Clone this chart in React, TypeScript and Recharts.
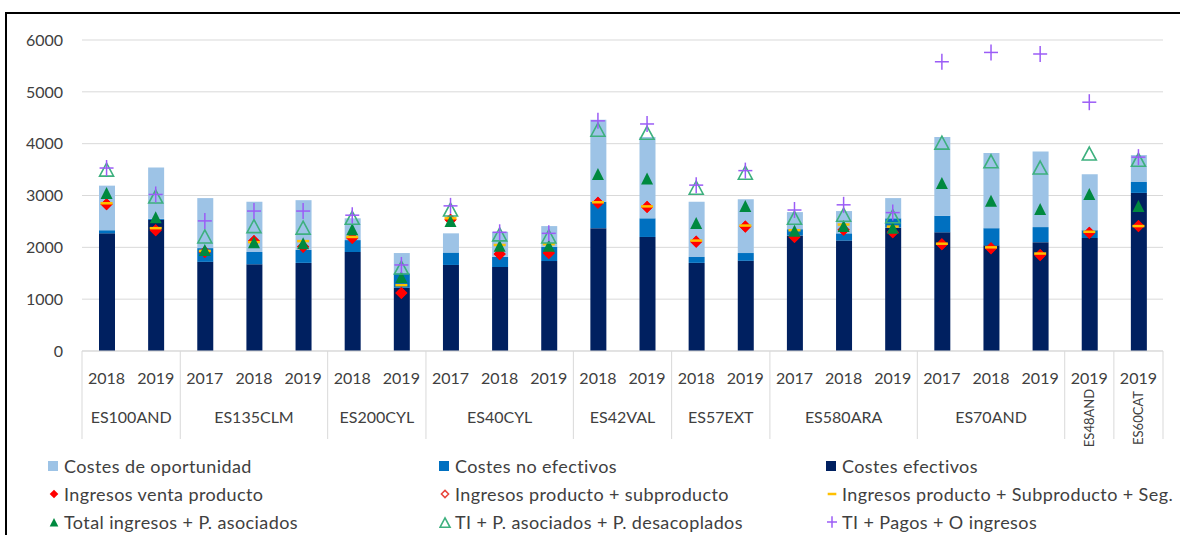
import React from "react"
import { ComposedChart, Bar, Line, XAxis, YAxis, CartesianGrid, Legend } from "recharts"

// categories
const years = [
  "2018", "2019",
  "2017", "2018", "2019",
  "2018", "2019",
  "2017", "2018", "2019",
  "2018", "2019",
  "2018", "2019",
  "2017", "2018", "2019",
  "2017", "2018", "2019",
  "2019",
  "2019",
]
const groupNames = ["ES100AND", "ES135CLM", "ES200CYL", "ES40CYL", "ES42VAL", "ES57EXT", "ES580ARA", "ES70AND", "ES48AND", "ES60CAT"]
const groupSizes = [2, 3, 2, 3, 2, 2, 3, 3, 1, 1]

// stacked bar segments
const costesEfectivos = [2270, 2530, 1720, 1675, 1700, 1910, 1220, 1660, 1620, 1735, 2370, 2200, 1700, 1740, 2230, 2130, 2380, 2290, 2040, 2100, 2180, 3050]
const costesNoEfectivos = [60, 20, 265, 235, 250, 230, 280, 240, 195, 275, 510, 360, 115, 150, 120, 140, 180, 320, 330, 290, 150, 210]
const costesOportunidad = [860, 990, 965, 970, 960, 420, 390, 370, 485, 400, 1580, 1570, 1065, 1040, 330, 430, 390, 1520, 1450, 1460, 1080, 520]

// markers
const ingresosVenta = [2830, 2330, 1910, 2120, 2010, 2180, 1120, 2530, 1870, 1890, 2860, 2780, 2110, 2400, 2200, 2340, 2290, 2060, 1980, 1850, 2280, 2410]
const ingresosSubproducto = [2830, 2330, 1910, 2120, 2010, 2180, 1120, 2530, 1870, 1890, 2860, 2780, 2110, 2400, 2200, 2340, 2290, 2060, 1980, 1850, 2280, 2410]
const ingresosSeg = [2850, 2370, 1930, 2100, 2120, 2200, 1270, 2560, 2045, 2060, 2870, 2790, 2130, 2420, 2330, 2440, 2400, 2070, 2000, 1880, 2300, 2410]
const totalAsociados = [3030, 2560, 1930, 2080, 2060, 2330, 1410, 2490, 2010, 2010, 3395, 3310, 2450, 2780, 2300, 2390, 2360, 3220, 2880, 2720, 3010, 2780]
const tiDesacoplados = [3490, 2970, 2200, 2400, 2370, 2560, 1600, 2720, 2240, 2200, 4260, 4200, 3140, 3430, 2560, 2620, 2590, 4010, 3650, 3530, 3800, 3680]
const tiPagos = [3530, 3020, 2510, 2700, 2700, 2620, 1660, 2800, 2290, 2270, 4440, 4380, 3200, 3480, 2720, 2820, 2670, 5580, 5760, 5730, 4800, 3740]

const yTicks = [0, 1000, 2000, 3000, 4000, 5000, 6000]

const data = years.map((year, i) => ({
  year,
  efectivos: costesEfectivos[i],
  noEfectivos: costesNoEfectivos[i],
  oportunidad: costesOportunidad[i],
  venta: ingresosVenta[i],
  subproducto: ingresosSubproducto[i],
  seg: ingresosSeg[i],
  total: totalAsociados[i],
  desacoplados: tiDesacoplados[i],
  pagos: tiPagos[i],
}))

const CHART_W = 1180
const CHART_H = 535
const Y_AXIS_W = 82
const MARGIN_RIGHT = 17
const BAND = (CHART_W - Y_AXIS_W - MARGIN_RIGHT) / years.length

const FONT = "Lato, 'Noto Sans', sans-serif"
const TEXT = "#404040"
const GRID = "#D9D9D9"

const groupStarts: number[] = []
groupSizes.reduce((acc, n) => {
  groupStarts.push(acc)
  return acc + n
}, 0)

const CategoryTick = (props: any) => {
  const { x, y, payload } = props
  const i = payload.index ?? props.index
  const g = groupStarts.indexOf(i)
  return (
    <g>
      <text x={x} y={y + 33} textAnchor="middle" fill={TEXT} fontSize={16} fontFamily={FONT}>
        {payload.value}
      </text>
      {g >= 0 && <line x1={x - BAND / 2} x2={x - BAND / 2} y1={y} y2={y + 88} stroke={GRID} />}
      {i === years.length - 1 && <line x1={x + BAND / 2} x2={x + BAND / 2} y1={y} y2={y + 88} stroke={GRID} />}
      {g >= 0 && groupSizes[g] > 1 && (
        <text x={x + ((groupSizes[g] - 1) * BAND) / 2} y={y + 72} textAnchor="middle" fill={TEXT} fontSize={16} fontFamily={FONT}>
          {groupNames[g]}
        </text>
      )}
      {g >= 0 && groupSizes[g] === 1 && (
        <text
          x={x}
          y={y + 67}
          transform={`rotate(-90, ${x}, ${y + 67})`}
          textAnchor="middle"
          dominantBaseline="central"
          fill={TEXT}
          fontSize={13}
          fontFamily={FONT}
        >
          {groupNames[g]}
        </text>
      )}
    </g>
  )
}

const RED = "#FF0000"
const YELLOW = "#FFC000"
const GREEN = "#00893F"
const SEA = "#3DB07E"
const PURPLE = "#9B5CF6"

type Shape = "diamond" | "openDiamond" | "dash" | "triangle" | "openTriangle" | "plus" | "square"

const Marker = ({ shape, cx, cy, color, s = 1 }: { shape: Shape; cx: number; cy: number; color: string; s?: number }) => {
  switch (shape) {
    case "diamond":
      return <polygon points={`${cx},${cy - 6 * s} ${cx + 6 * s},${cy} ${cx},${cy + 6 * s} ${cx - 6 * s},${cy}`} fill={color} />
    case "openDiamond":
      return <polygon points={`${cx},${cy - 5 * s} ${cx + 5 * s},${cy} ${cx},${cy + 5 * s} ${cx - 5 * s},${cy}`} fill="none" stroke={color} strokeWidth={1.5} />
    case "dash":
      return <line x1={cx - 6 * s} x2={cx + 6 * s} y1={cy} y2={cy} stroke={color} strokeWidth={2.5} />
    case "triangle":
      return <polygon points={`${cx},${cy - 7 * s} ${cx + 6 * s},${cy + 5 * s} ${cx - 6 * s},${cy + 5 * s}`} fill={color} />
    case "openTriangle":
      return <polygon points={`${cx},${cy - 7 * s} ${cx + 7 * s},${cy + 6 * s} ${cx - 7 * s},${cy + 6 * s}`} fill="none" stroke={color} strokeWidth={1.6} />
    case "plus":
      return (
        <g stroke={color} strokeWidth={1.5}>
          <line x1={cx - 7 * s} x2={cx + 7 * s} y1={cy} y2={cy} />
          <line x1={cx} x2={cx} y1={cy - 8 * s} y2={cy + 8 * s} />
        </g>
      )
    default:
      return <rect x={cx - 5} y={cy - 5} width={10} height={10} fill={color} />
  }
}

const markerDot = (shape: Shape, color: string) => (p: any) => (
  <g key={p.key ?? `${shape}-${p.index}`}>
    {p.cx != null && p.cy != null && <Marker shape={shape} cx={p.cx} cy={p.cy} color={color} />}
  </g>
)

const legendItems: { label: string; shape: Shape; color: string }[] = [
  { label: "Costes de oportunidad", shape: "square", color: "#9DC3E6" },
  { label: "Costes no efectivos", shape: "square", color: "#0070C0" },
  { label: "Costes efectivos", shape: "square", color: "#002060" },
  { label: "Ingresos venta producto", shape: "diamond", color: RED },
  { label: "Ingresos producto + subproducto", shape: "openDiamond", color: "#E8453C" },
  { label: "Ingresos producto + Subproducto + Seg.", shape: "dash", color: YELLOW },
  { label: "Total ingresos + P. asociados", shape: "triangle", color: GREEN },
  { label: "TI + P. asociados + P. desacoplados", shape: "openTriangle", color: SEA },
  { label: "TI + Pagos + O ingresos", shape: "plus", color: PURPLE },
]
const legendCols = [48, 439, 826]

const LegendContent = () => (
  <div style={{ position: "relative", width: CHART_W, height: 84, fontFamily: FONT, fontSize: 18, letterSpacing: 0.4, color: TEXT }}>
    {legendItems.map((item, i) => (
      <div
        key={item.label}
        style={{
          position: "absolute",
          left: legendCols[i % 3],
          top: Math.floor(i / 3) * 28,
          height: 24,
          display: "flex",
          alignItems: "center",
          whiteSpace: "nowrap",
        }}
      >
        <svg width={16} height={20}>
          <Marker shape={item.shape} cx={item.shape === "square" ? 5 : 6} cy={item.shape === "triangle" || item.shape === "openTriangle" ? 11 : 10} color={item.color} s={0.72} />
        </svg>
        <span>{item.label}</span>
      </div>
    ))}
  </div>
)

export default function App() {
  return (
    <div style={{ position: "relative", width: CHART_W, height: CHART_H, background: "#fff", overflow: "hidden" }}>
      <style>{`body{margin:0}`}</style>
      <div
        style={{
          position: "absolute",
          left: 5,
          top: 12,
          width: CHART_W,
          height: CHART_H,
          borderTop: "2px solid #000",
          borderLeft: "2px solid #000",
        }}
      />
      <div style={{ position: "absolute", left: 0, top: 0 }}>
        <ComposedChart width={CHART_W} height={CHART_H} data={data} margin={{ top: 40, right: MARGIN_RIGHT, left: 0, bottom: 94 }}>
          <CartesianGrid vertical={false} stroke={GRID} />
          <XAxis
            dataKey="year"
            interval={0}
            height={90}
            tickSize={0}
            tickMargin={0}
            tickLine={false}
            axisLine={{ stroke: GRID }}
            tick={<CategoryTick />}
          />
          <YAxis
            width={Y_AXIS_W}
            domain={[0, 6000]}
            ticks={yTicks}
            axisLine={false}
            tickLine={false}
            tickSize={0}
            tickMargin={19}
            tick={{ fill: TEXT, fontSize: 16, fontFamily: FONT }}
          />
          <Legend
            layout="horizontal"
            verticalAlign="middle"
            align="center"
            wrapperStyle={{ left: 0, top: 454, width: CHART_W }}
            content={<LegendContent />}
          />
          <Bar dataKey="efectivos" stackId="c" fill="#002060" barSize={16} isAnimationActive={false} />
          <Bar dataKey="noEfectivos" stackId="c" fill="#0070C0" barSize={16} isAnimationActive={false} />
          <Bar dataKey="oportunidad" stackId="c" fill="#9DC3E6" barSize={16} isAnimationActive={false} />
          <Line dataKey="venta" stroke="none" dot={markerDot("diamond", RED)} activeDot={false} isAnimationActive={false} />
          <Line dataKey="subproducto" stroke="none" dot={markerDot("openDiamond", RED)} activeDot={false} isAnimationActive={false} />
          <Line dataKey="seg" stroke="none" dot={markerDot("dash", YELLOW)} activeDot={false} isAnimationActive={false} />
          <Line dataKey="total" stroke="none" dot={markerDot("triangle", GREEN)} activeDot={false} isAnimationActive={false} />
          <Line dataKey="desacoplados" stroke="none" dot={markerDot("openTriangle", SEA)} activeDot={false} isAnimationActive={false} />
          <Line dataKey="pagos" stroke="none" dot={markerDot("plus", PURPLE)} activeDot={false} isAnimationActive={false} />
        </ComposedChart>
      </div>
    </div>
  )
}
